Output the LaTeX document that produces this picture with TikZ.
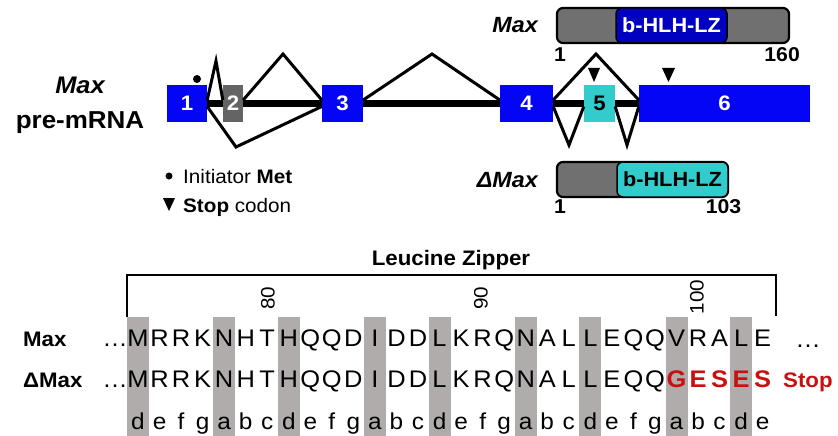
\documentclass[tikz,border=0pt]{standalone}
\usepackage{fontspec}
\setmainfont[FakeStretch=1.06]{Liberation Sans}
\usetikzlibrary{backgrounds}
\definecolor{exonblue}{RGB}{5,5,245}
\definecolor{exongray}{RGB}{100,100,100}
\definecolor{exonteal}{RGB}{51,204,204}
\definecolor{bargray}{RGB}{112,112,112}
\definecolor{domblue}{RGB}{0,0,190}
\definecolor{colgray}{RGB}{176,172,172}
\definecolor{stopred}{RGB}{200,16,16}
\newcommand\fsz[1]{\fontsize{#1}{#1}\selectfont}
\begin{document}
\begin{tikzpicture}[x=1pt,y=-1pt,
  exon/.style={rectangle, inner sep=0, minimum height=37pt, fill=exonblue, text=white, font=\bfseries\fsz{21}},
  splice/.style={line width=3pt, line join=miter},
  bar/.style={rectangle, rounded corners=6pt, draw=black, line width=2.2pt, fill=bargray, inner sep=0, minimum height=35pt},
  dom/.style={rectangle, rounded corners=6pt, draw=black, line width=1.5pt, inner sep=0, minimum height=35pt, font=\bfseries\fsz{20.5}},
  lbl/.style={inner sep=0, anchor=base},
  aares/.style={inner sep=0, anchor=base, font=\fsz{24}},
  hept/.style={inner sep=0, anchor=base, font=\fsz{23}},
  redres/.style={inner sep=0, anchor=base, font=\bfseries\fsz{24}, text=stopred},
  resnum/.style={inner sep=0, rotate=90, font=\fsz{19.5}},
  stopmark/.style={fill=black}
]
\useasboundingbox (0,0) rectangle (838,436);

% ---------- gene structure ----------
\node[lbl, font=\bfseries\itshape\fsz{24}] (maxlbl) at (80,93) {Max};
\node[lbl, font=\bfseries\fsz{24.5}] (prelbl) at (80,128) {pre-mRNA};

\node[exon, minimum width=40pt] (e1) at (187,103.5) {1};
\node[exon, minimum width=20pt, fill=exongray] (e2) at (233,103.5) {2};
\node[exon, minimum width=41pt] (e3) at (342.5,103.5) {3};
\node[exon, minimum width=53pt] (e4) at (526.5,103.5) {4};
\node[exon, minimum width=31pt, fill=exonteal, text=black] (e5) at (599.5,103.5) {5};
\node[exon, minimum width=171pt] (e6) at (724.5,103.5) {6};

\begin{scope}[on background layer]
  \draw[line width=7.5pt] (e1.east) -- (e6.west);
\end{scope}

\coordinate (a1) at (216,61);
\coordinate (a2) at (283,54);
\coordinate (a3) at (432,54);
\coordinate (a4) at (596,54);
\coordinate (b1) at (236,147);
\coordinate (b2) at (569,145);
\coordinate (b3) at (627,145);

\draw[splice] ([yshift=3.5pt]e1.east) -- (a1) -- ([yshift=3.5pt]e2.west);
\draw[splice] ([yshift=3.5pt]e2.east) -- (a2) -- ([yshift=3.5pt]e3.west);
\draw[splice] ([yshift=-3pt]e1.east) -- (b1) -- ([yshift=-3pt]e3.west);
\draw[splice] ([yshift=3.5pt]e3.east) -- (a3) -- ([yshift=3.5pt]e4.west);
\draw[splice] ([yshift=3.5pt]e4.east) -- (a4) -- ([yshift=3.5pt]e6.west);
\draw[splice] ([yshift=-3pt]e4.east) -- (b2) -- ([yshift=-3pt]e5.west);
\draw[splice] ([yshift=-3pt]e5.east) -- (b3) -- ([yshift=-3pt]e6.west);

% initiator Met and stop codons
\fill (197,79) circle (4pt);
\fill[stopmark] (588,68) -- (600,68) -- (594,82) -- cycle;
\fill[stopmark] (662,68) -- (675,68) -- (668.5,82) -- cycle;

% legend
\fill (169,176) circle (3.5pt);
\node[lbl, anchor=base west, font=\fsz{19.5}] (leg1) at (183,183) {Initiator \textbf{Met}};
\fill[stopmark] (163,198) -- (175,198) -- (169,211) -- cycle;
\node[lbl, anchor=base west, font=\fsz{19.5}] (leg2) at (183,212) {\textbf{Stop} codon};

% ---------- proteins ----------
\node[lbl, anchor=base east, font=\bfseries\itshape\fsz{22}] (pmax) at (538,33) {Max};
\node[bar, minimum width=232pt] (maxbar) at (673,25.5) {};
\node[dom, minimum width=111pt, fill=domblue, text=white] (maxdom) at (671.5,25.5) {b-HLH-LZ};
\node[lbl, font=\bfseries\fsz{20}] (m1) at (560,62) {1};
\node[lbl, anchor=base east, font=\bfseries\fsz{20}] (m160) at (800,62) {160};

\node[lbl, anchor=base east, font=\bfseries\itshape\fsz{22}] (pdmax) at (538,187) {ΔMax};
\node[bar, minimum width=171pt] (dmaxbar) at (642.5,179.5) {};
\node[dom, minimum width=111pt, fill=exonteal, text=black] (dmaxdom) at (672.5,179.5) {b-HLH-LZ};
\node[lbl, font=\bfseries\fsz{20}] (d1) at (560,213) {1};
\node[lbl, font=\bfseries\fsz{20}] (d103) at (723.5,213) {103};

% ---------- leucine zipper ----------
\node[lbl, font=\bfseries\fsz{21}] (lz) at (451,265) {Leucine Zipper};
\draw[line width=2.8pt] (127,317) -- (127,275) -- (776,275) -- (776,316);

\foreach \i in {0,4,7,11,14,18,21,25,28}
  \fill[colgray] ({138+21.54*\i-11},317) rectangle ({138+21.54*\i+11},436);

\node[resnum] (n80) at (268,298) {80};
\node[resnum] (n90) at (481,298) {90};
\node[resnum] (n100) at (697,297) {100};

\node[lbl, anchor=base west, font=\bfseries\fsz{21}] (rmax) at (23,346.5) {Max};
\node[lbl, anchor=base west, font=\bfseries\fsz{21}] (rdmax) at (23,387) {ΔMax};

\node[aares] (dots1) at (115,346.5) {…};
\node[aares] (dots2) at (115,387) {…};
\node[aares] (dots3) at (808,347) {…};

\foreach \c [count=\i from 0] in {M,R,R,K,N,H,T,H,Q,Q,D,I,D,D,L,K,R,Q,N,A,L,L,E,Q,Q,V,R,A,L,E}
  \node[aares] (mx\i) at ({138+21.54*\i},346.5) {\c};

\foreach \c [count=\i from 0] in {M,R,R,K,N,H,T,H,Q,Q,D,I,D,D,L,K,R,Q,N,A,L,L,E,Q,Q}
  \node[aares] (dm\i) at ({138+21.54*\i},387) {\c};
\foreach \c [count=\i from 25] in {G,E,S,E,S}
  \node[redres] (dm\i) at ({138+21.54*\i},387) {\c};
\node[lbl, anchor=base west, font=\bfseries\fsz{21}, text=stopred] (stop) at (783,387) {Stop};

\foreach \c [count=\i from 0] in {d,e,f,g,a,b,c,d,e,f,g,a,b,c,d,e,f,g,a,b,c,d,e,f,g,a,b,c,d,e}
  \node[hept] (h\i) at ({138+21.54*\i},429) {\c};
\end{tikzpicture}
\end{document}
